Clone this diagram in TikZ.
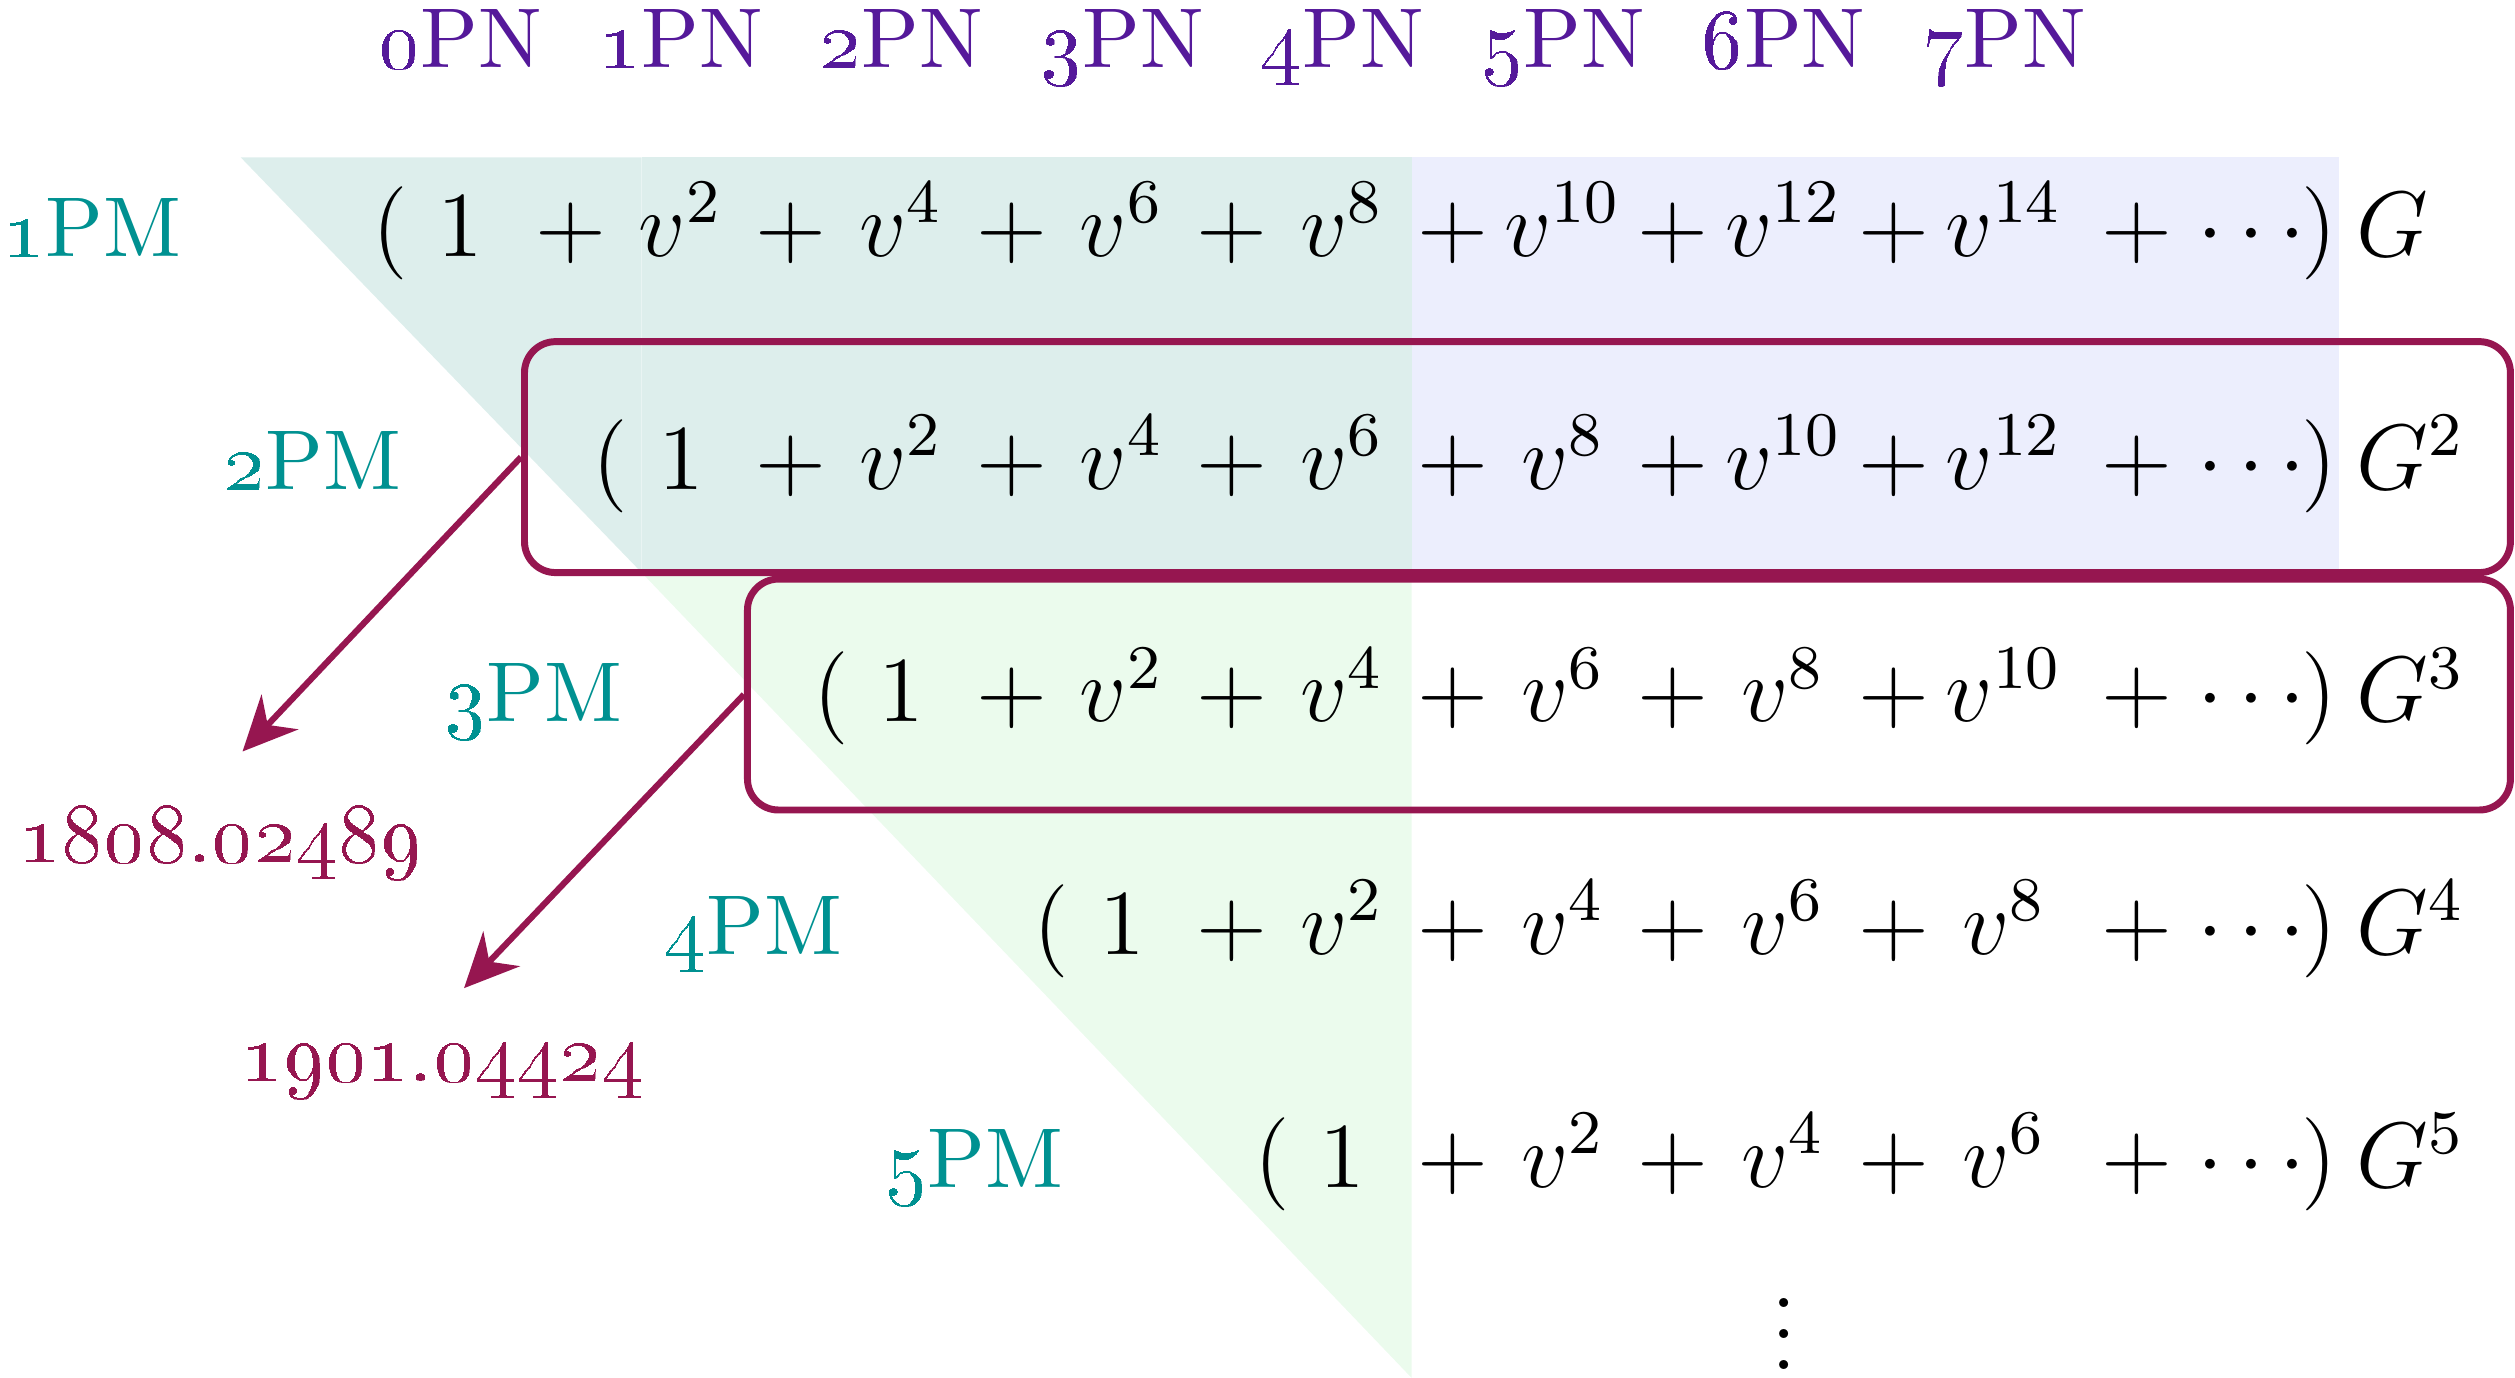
\documentclass[12pt,tikz,border=0pt]{standalone}
\usetikzlibrary{arrows.meta}

\definecolor{pnviolet}{HTML}{55199A}
\definecolor{pmteal}{HTML}{009191}
\definecolor{arxivred}{HTML}{961650}
\definecolor{tealshade}{HTML}{DDEEEC}
\definecolor{greenshade}{HTML}{EBFBED}
\definecolor{blueshade}{HTML}{ECEEFD}

\begin{document}
\begin{tikzpicture}[
  every node/.style={font=\normalsize},
  pnlabel/.style={pnviolet, font=\small, anchor=base},
  pmlabel/.style={pmteal, font=\small, anchor=base},
  term/.style={anchor=base, inner sep=0pt},
  series/.style={draw=arxivred, line width=0.9pt, rounded corners=4pt,
                 inner sep=0pt, minimum height=1.047cm},
  arxiv/.style={arxivred, font=\small},
  citearrow/.style={-{Stealth[length=7pt, width=6.5pt]}, arxivred,
                    line width=0.8pt, shorten >=4pt},
]

%% ── Canvas ───────────────────────────────────────────────────────────────────
\useasboundingbox (-2.087,-5.207) rectangle (9.316,1.04);

%% ── Shaded regions ───────────────────────────────────────────────────────────
\fill[tealshade] (-0.996,0.327) -- (0.822,0.327) -- (0.822,-1.556) -- cycle;
\fill[tealshade] (0.822,0.327) rectangle (4.313,-1.556);
\fill[blueshade] (4.313,0.327) rectangle (8.516,-1.556);
\fill[greenshade] (0.822,-1.556) -- (4.313,-1.556) -- (4.313,-5.207) -- cycle;

%% ── PN orders (top) ──────────────────────────────────────────────────────────
\foreach \pn in {0,...,7}
  \node[pnlabel] (pn\pn) at (\pn,0.735) {\oldstylenums{\pn}PN};

%% ── PM rows ──────────────────────────────────────────────────────────────────
\foreach \row in {1,...,5} {
  \pgfmathsetmacro\yb{-0.124-(\row-1)*1.0545}
  \pgfmathtruncatemacro\nk{8-\row}
  \node[pmlabel] (pm\row) at ({\row-2.67},\yb) {\oldstylenums{\row}PM};
  \node[term] (open\row) at ({\row-1.32},\yb) {$($};
  \node[term] (one\row) at ({\row-1},\yb) {$1$};
  \foreach \kk in {1,...,\nk} {
    \pgfmathtruncatemacro\col{\row-1+\kk}
    \pgfmathtruncatemacro\ex{2*\kk}
    \node[term] (plus\row-\kk) at ({\col-0.5},\yb) {$+$};
    \node[term] (v\row-\kk) at (\col,\yb) {$v^{\ex}$};
  }
  \node[term] (plusdots\row) at (7.6,\yb) {$+$};
  \node[term] (dots\row) at (8.12,\yb) {$\cdots$};
  \node[term] (close\row) at (8.43,\yb) {$)$};
  \node[term, anchor=base west] (g\row) at (8.59,\yb)
    {$G\ifnum\row>1^{\row}\fi$};
}
\node[term] (vdots) at (6,-5.17) {$\vdots$};

%% ── Highlighted rows ─────────────────────────────────────────────────────────
\node[series, minimum width=9.004cm] (box2pm) at (4.793,-1.0325) {};
\node[series, minimum width=7.993cm] (box3pm) at (5.2985,-2.109) {};

%% ── arXiv references ─────────────────────────────────────────────────────────
\node[arxiv] (arxiv1) at (-1.084,-2.778) {\oldstylenums{1808.02489}};
\node[arxiv] (arxiv2) at (-0.08,-3.811) {\oldstylenums{1901.04424}};
\draw[citearrow] (box2pm.west) -- (arxiv1.north);
\draw[citearrow] (box3pm.west) -- (arxiv2.north);

\end{tikzpicture}
\end{document}
